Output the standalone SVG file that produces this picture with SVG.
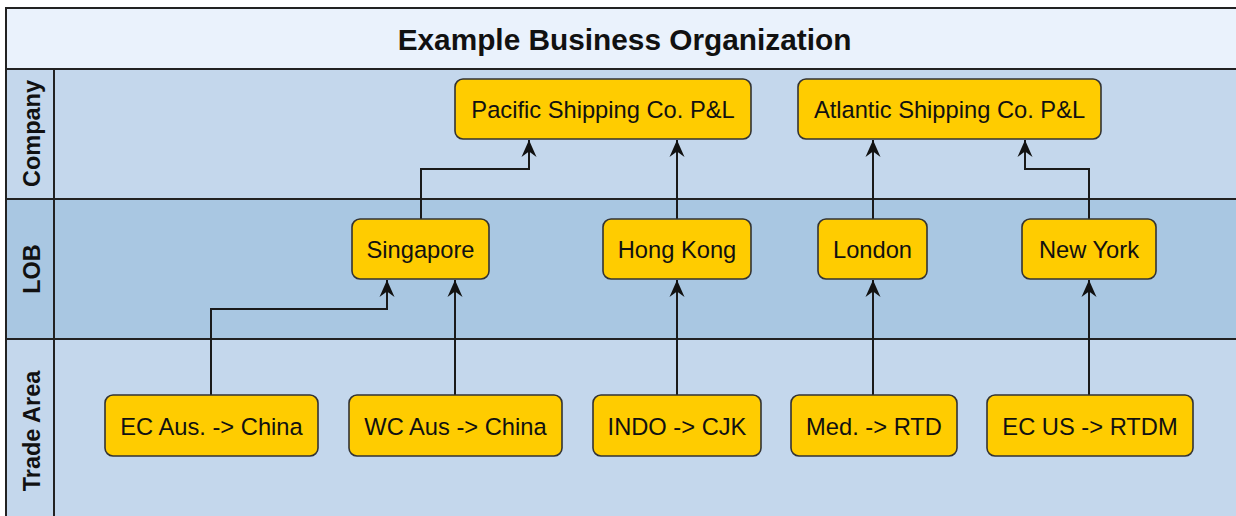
<svg xmlns="http://www.w3.org/2000/svg" width="1236" height="516" viewBox="0 0 1236 516">
<style>
.lane{stroke:#222;stroke-width:2}
.node rect{fill:#FFCC00;stroke:#333;stroke-width:1.6}
.node text{font-family:"Liberation Sans",Arial,sans-serif;font-size:23.7px;fill:#111;text-anchor:middle}
.lbl{font-family:"Liberation Sans",Arial,sans-serif;font-size:23.5px;font-weight:bold;fill:#111;text-anchor:middle}
.title{font-family:"Liberation Sans",Arial,sans-serif;font-size:29.8px;font-weight:bold;fill:#111;text-anchor:middle}
.edge{fill:none;stroke:#1a1a1a;stroke-width:2;marker-end:url(#arr)}
</style>
<defs>
<marker id="arr" markerUnits="userSpaceOnUse" viewBox="0 0 18 16" markerWidth="18" markerHeight="16" refX="17" refY="8" orient="auto">
<path d="M0,0.5 L17,8 L0,15.5 L5.5,8 Z" fill="#111"/>
</marker>
</defs>
<rect width="1236" height="516" fill="#fff"/>
<g id="pool">
<rect x="6" y="8" width="1240" height="61" fill="#EAF2FC" class="lane"/>
<text class="title" x="624.5" y="50">Example Business Organization</text>
</g>
<g id="lane-company">
<rect x="6" y="69" width="1240" height="130" fill="#C4D7EC" class="lane"/>
<line x1="54" y1="69" x2="54" y2="199" class="lane"/>
<text class="lbl" transform="translate(39.5,133.5) rotate(-90)">Company</text>
</g>
<g id="lane-lob">
<rect x="6" y="199" width="1240" height="140" fill="#A9C7E2" class="lane"/>
<line x1="54" y1="199" x2="54" y2="339" class="lane"/>
<text class="lbl" transform="translate(39.5,269) rotate(-90)">LOB</text>
</g>
<g id="lane-trade">
<rect x="6" y="339" width="1240" height="190" fill="#C4D7EC" class="lane"/>
<line x1="54" y1="339" x2="54" y2="520" class="lane"/>
<text class="lbl" transform="translate(39.5,431) rotate(-90)">Trade Area</text>
</g>
<g id="connectors">
<path class="edge" d="M421,219 V169 H529 V140"/>
<path class="edge" d="M677,219 V140"/>
<path class="edge" d="M873,219 V140"/>
<path class="edge" d="M1089,219 V169 H1025 V140"/>
<path class="edge" d="M211,395 V309 H387 V280"/>
<path class="edge" d="M455,395 V280"/>
<path class="edge" d="M677,395 V280"/>
<path class="edge" d="M873,395 V280"/>
<path class="edge" d="M1089,395 V280"/>
</g>
<g id="pacific" class="node"><rect x="455" y="79" width="296" height="60" rx="8"/><text x="603" y="117.5">Pacific Shipping Co. P&amp;L</text></g>
<g id="atlantic" class="node"><rect x="798" y="79" width="303" height="60" rx="8"/><text x="949.5" y="117.5">Atlantic Shipping Co. P&amp;L</text></g>
<g id="singapore" class="node"><rect x="352" y="219" width="137" height="60" rx="8"/><text x="420.5" y="257.5">Singapore</text></g>
<g id="hongkong" class="node"><rect x="603" y="219" width="148" height="60" rx="8"/><text x="677" y="257.5">Hong Kong</text></g>
<g id="london" class="node"><rect x="818" y="219" width="109" height="60" rx="8"/><text x="872.5" y="257.5">London</text></g>
<g id="newyork" class="node"><rect x="1022" y="219" width="134" height="60" rx="8"/><text x="1089" y="257.5">New York</text></g>
<g id="ecaus" class="node"><rect x="105" y="395" width="213" height="61" rx="8"/><text x="211.5" y="434.5">EC Aus. -&gt; China</text></g>
<g id="wcaus" class="node"><rect x="349" y="395" width="213" height="61" rx="8"/><text x="455.5" y="434.5">WC Aus -&gt; China</text></g>
<g id="indo" class="node"><rect x="593" y="395" width="168" height="61" rx="8"/><text x="677" y="434.5">INDO -&gt; CJK</text></g>
<g id="med" class="node"><rect x="791" y="395" width="166" height="61" rx="8"/><text x="874" y="434.5">Med. -&gt; RTD</text></g>
<g id="ecus" class="node"><rect x="987" y="395" width="206" height="61" rx="8"/><text x="1090" y="434.5">EC US -&gt; RTDM</text></g>
</svg>
